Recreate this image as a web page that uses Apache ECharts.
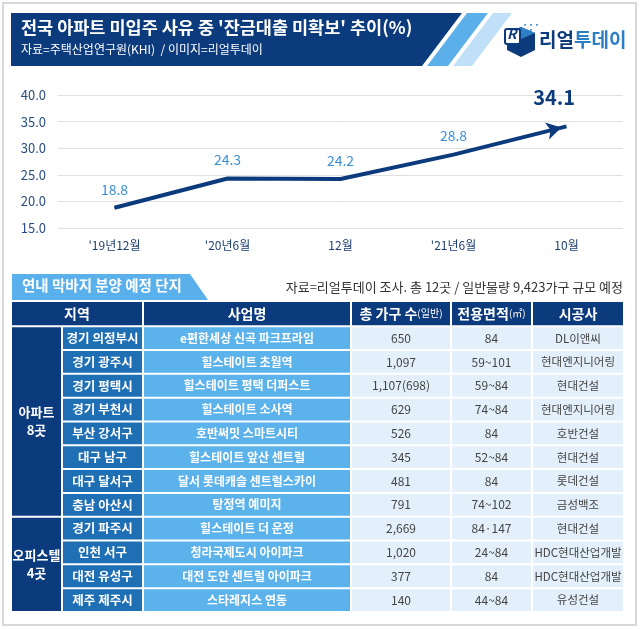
<!DOCTYPE html>
<html><head><meta charset="utf-8">
<script src="https://cdn.jsdelivr.net/npm/echarts@6/dist/echarts.min.js"></script>
<style>html,body{margin:0;padding:0;background:#fff}#c{width:640px;height:629px}</style>
</head><body><div id="c"></div>
<script>
// ---------- data ----------
const periods = ["'19년12월", "'20년6월", "12월", "'21년6월", "10월"];
const shares = [18.8, 24.3, 24.2, 28.8, 34.1];
const yTicks = [15, 20, 25, 30, 35, 40];

const headers = ['지역', '사업명', '총 가구 수{s|(일반)}', '전용면적{s|(㎡)}', '시공사'];
const groupNames = ['아파트\n8곳', '오피스텔\n4곳'];
const groupCounts = [8, 4];
const regions = ['경기 의정부시', '경기 광주시', '경기 평택시', '경기 부천시', '부산 강서구', '대구 남구', '대구 달서구', '충남 아산시', '경기 파주시', '인천 서구', '대전 유성구', '제주 제주시'];
const projects = ['e편한세상 신곡 파크프라임', '힐스테이트 초월역', '힐스테이트 평택 더퍼스트', '힐스테이트 소사역', '호반써밋 스마트시티', '힐스테이트 앞산 센트럴', '달서 롯데캐슬 센트럴스카이', '탕정역 예미지', '힐스테이트 더 운정', '청라국제도시 아이파크', '대전 도안 센트럴 아이파크', '스타레지스 연동'];
const households = ['650', '1,097', '1,107(698)', '629', '526', '345', '481', '791', '2,669', '1,020', '377', '140'];
const areas = ['84', '59~101', '59~84', '74~84', '84', '52~84', '84', '74~102', '84·147', '24~84', '84', '44~84'];
const builders = ['DL이앤씨', '현대엔지니어링', '현대건설', '현대엔지니어링', '호반건설', '현대건설', '롯데건설', '금성백조', '현대건설', 'HDC현대산업개발', 'HDC현대산업개발', '유성건설'];

// ---------- style / layout ----------
const FONT = "'Noto Sans CJK KR', 'Noto Sans', sans-serif";
const NAVY = '#0c3b7d', MID = '#1f6fb5', LIGHT = '#5cb2eb', PALE = '#e3effa';
const headerH = 1.06;

// build table cells
const cells = [];
const hdrSpans = [[0, 130], [132, 338], [340, 438], [440, 519], [521, 611]];
headers.forEach((h, i) => cells.push({x0: hdrSpans[i][0], x1: hdrSpans[i][1], y0: 0, y1: headerH, text: h, fill: NAVY, color: '#fff', bold: true, size: 14}));
let r = 0;
groupNames.forEach((g, i) => {
  cells.push({x0: 0, x1: 49, y0: headerH + r, y1: headerH + r + groupCounts[i], text: g, fill: NAVY, color: '#fff', bold: true, size: 13});
  r += groupCounts[i];
});
regions.forEach((reg, i) => {
  const y0 = headerH + i, y1 = y0 + 1;
  cells.push({x0: 51, x1: 130, y0, y1, text: reg, fill: MID, color: '#fff', bold: true, size: 12.5});
  cells.push({x0: 132, x1: 338, y0, y1, text: projects[i], fill: LIGHT, color: '#fff', bold: true, size: 12});
  cells.push({x0: 340, x1: 438, y0, y1, text: households[i], fill: PALE, color: '#444', bold: false, size: 12});
  cells.push({x0: 440, x1: 519, y0, y1, text: areas[i], fill: PALE, color: '#444', bold: false, size: 12});
  cells.push({x0: 521, x1: 611, y0, y1, text: builders[i], fill: PALE, color: '#444', bold: false, size: 11.5});
});

const chart = echarts.init(document.getElementById('c'), null, {renderer: 'canvas'});

const lastIdx = shares.length - 1;
const lineData = shares.map((v, i) => i === lastIdx ? {
  value: v, symbol: 'arrow', symbolSize: [13, 15], symbolRotate: -76, symbolOffset: [-5, 1],
  label: {fontSize: 20, fontWeight: 'bold', color: NAVY, distance: 12}
} : {value: v});

chart.setOption({
  animation: false,
  textStyle: {fontFamily: FONT},
  graphic: [
    {type: 'rect', shape: {x: 3, y: 3, width: 633, height: 622}, style: {fill: 'none', stroke: '#d8d8d8', lineWidth: 2}, z: 0},
    {type: 'polygon', shape: {points: [[11, 13], [462, 13], [422, 66], [11, 66]]}, style: {fill: NAVY}},
    {type: 'polygon', shape: {points: [[467, 13], [488, 13], [448, 66], [427, 66]]}, style: {fill: '#5cb0ea'}},
    {type: 'polygon', shape: {points: [[493, 13], [512, 13], [472, 66], [453, 66]]}, style: {fill: '#bfe0f7'}},
    {type: 'text', left: 21, top: 19, style: {text: "전국 아파트 미입주 사유 중 '잔금대출 미확보' 추이(%)", fill: '#fff', font: 'bold 17.5px ' + FONT}},
    {type: 'text', left: 21, top: 43, style: {text: '자료=주택산업연구원(KHI)  / 이미지=리얼투데이', fill: '#fff', font: '12px ' + FONT}},
    // logo
    {type: 'polygon', shape: {points: [[507, 33], [521, 27], [535, 33], [535, 50], [521, 57], [507, 50]]}, style: {fill: NAVY}},
    {type: 'polygon', shape: {points: [[507, 33], [521, 27], [535, 33], [521, 39]]}, style: {fill: '#2c7fc4'}},
    {type: 'rect', shape: {x: 505, y: 29, width: 15, height: 15, r: 2}, style: {fill: '#fff', stroke: NAVY, lineWidth: 2}},
    {type: 'text', left: 507, top: 27, style: {text: 'R', fill: NAVY, font: 'bold italic 14px ' + FONT}},
    {type: 'text', left: 522, top: 22, style: {text: '▪▪▪\n▪▪', fill: '#3a86c8', font: '6px ' + FONT, lineHeight: 5}},
    {type: 'text', left: 539, top: 30, style: {text: '리얼{b|투데이}', fill: NAVY, font: 'bold 19px ' + FONT, rich: {b: {fill: '#2c7fc4', font: 'bold 19px ' + FONT}}}},
    // section tab
    {type: 'polygon', shape: {points: [[12, 274], [190, 274], [208, 300], [12, 300]]}, style: {fill: '#5ab0ea'}},
    {type: 'text', left: 22, top: 278, style: {text: '연내 막바지 분양 예정 단지', fill: '#fff', font: 'bold 14.5px ' + FONT}},
    {type: 'text', right: 17, top: 281, style: {text: '자료=리얼투데이 조사. 총 12곳 / 일반물량 9,423가구 규모 예정', fill: '#333', font: '13px ' + FONT}}
  ],
  grid: [
    {left: 58, right: 17, top: 95, bottom: 401},
    {left: 12, width: 611, top: 302, height: 311}
  ],
  xAxis: [
    {gridIndex: 0, type: 'category', data: periods, boundaryGap: true,
     axisLine: {show: false}, axisTick: {show: false},
     axisLabel: {color: '#1e3f72', fontSize: 12, margin: 11, fontFamily: FONT}},
    {gridIndex: 1, type: 'value', min: 0, max: 611, show: false}
  ],
  yAxis: [
    {gridIndex: 0, type: 'value', min: yTicks[0], max: yTicks[yTicks.length - 1], interval: 5,
     axisLine: {show: false}, axisTick: {show: false},
     axisLabel: {color: '#2a4d80', fontSize: 13, margin: 12, formatter: v => v.toFixed(1), fontFamily: FONT},
     splitLine: {lineStyle: {color: '#e0e0e0', width: 1}}},
    {gridIndex: 1, type: 'value', min: 0, max: headerH + regions.length, inverse: true, show: false}
  ],
  series: [
    {type: 'line', xAxisIndex: 0, yAxisIndex: 0, data: lineData,
     symbol: 'circle', symbolSize: 1, showSymbol: true,
     lineStyle: {color: NAVY, width: 4},
     itemStyle: {color: NAVY},
     label: {show: true, position: 'top', distance: 11, color: '#3b8fd6', fontSize: 14, fontFamily: FONT},
     z: 3},
    {type: 'custom', xAxisIndex: 1, yAxisIndex: 1,
     data: cells.map((c, i) => [c.x0, c.y0, c.x1, c.y1, i]),
     encode: {x: [0, 2], y: [1, 3]},
     renderItem: function (params, api) {
       const c = cells[api.value(4)];
       const p0 = api.coord([api.value(0), api.value(1)]);
       const p1 = api.coord([api.value(2), api.value(3)]);
       const w = p1[0] - p0[0], h = p1[1] - p0[1] - 2;
       return {
         type: 'group',
         children: [
           {type: 'rect', shape: {x: p0[0], y: p0[1], width: w, height: h}, style: {fill: c.fill}},
           {type: 'text', x: p0[0] + w / 2, y: p0[1] + h / 2,
            style: {text: c.text, fill: c.color, align: 'center', verticalAlign: 'middle',
                    font: (c.bold ? 'bold ' : '') + c.size + 'px ' + FONT, lineHeight: 18,
                    rich: {s: {fontSize: 10, fill: c.color, fontFamily: FONT}}}}
         ]
       };
     }}
  ]
});
</script></body></html>
